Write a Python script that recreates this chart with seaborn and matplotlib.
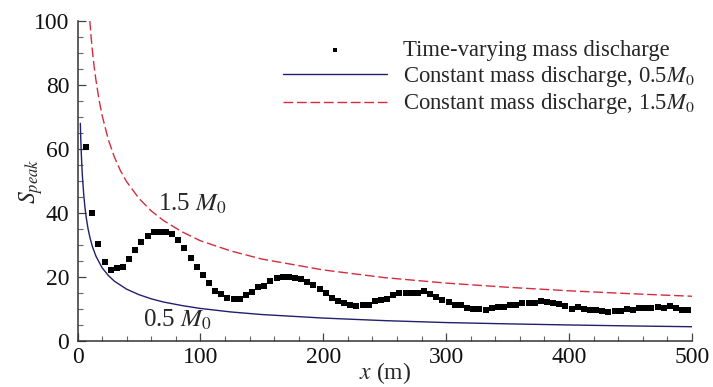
import numpy as np
import pandas as pd
import matplotlib
matplotlib.use("Agg")
import matplotlib.pyplot as plt
import seaborn as sns
from matplotlib.ticker import MultipleLocator

# ---- data ----
x_points = np.arange(7, 500, 5)
s_time_varying = [
    60.7, 40.0, 30.5, 24.9, 22.4, 23.0, 23.3, 25.8, 28.6, 30.9,
    32.9, 34.2, 34.2, 34.2, 33.5, 31.6, 29.0, 25.9, 23.3, 20.8,
    18.3, 15.8, 14.7, 13.5, 13.2, 13.2, 14.5, 15.4, 17.0, 17.3,
    18.8, 19.9, 20.2, 20.2, 19.8, 19.4, 18.7, 17.6, 16.3, 15.2,
    13.7, 12.7, 11.9, 11.5, 11.2, 11.3, 11.5, 12.7, 12.9, 13.4,
    14.6, 15.0, 15.0, 15.0, 15.2, 15.7, 14.8, 13.8, 13.0, 12.35,
    11.4, 11.3, 10.4, 10.2, 10.2, 9.8, 10.5, 10.8, 10.8, 11.5,
    11.5, 12.1, 12.1, 12.0, 12.5, 12.2, 12.0, 11.7, 11.2, 10.2,
    10.7, 10.0, 9.8, 9.7, 9.5, 9.2, 9.4, 9.5, 10.2, 9.8,
    10.5, 10.5, 10.5, 10.8, 10.4, 11.0, 10.4, 9.8, 9.7,
]

x_low = [2.3, 2.6, 3, 3.5, 4, 5, 6, 7, 8.5, 10, 12, 15, 20, 25, 30, 40, 50, 60, 70, 85,
         100, 125, 150, 200, 250, 300, 350, 400, 450, 500]
s_low = [68.0, 63.9, 59.5, 55.1, 51.5, 46.1, 42.0, 38.9, 35.3, 32.6, 29.7, 26.6, 23.0,
         20.6, 18.8, 16.3, 14.6, 13.3, 12.3, 11.2, 10.3, 9.2, 8.4, 7.3, 6.5, 5.9, 5.5,
         5.15, 4.85, 4.6]

x_high = [10, 11, 12, 13.5, 15, 17.5, 20, 25, 30, 35, 40, 50, 60, 70, 85, 100, 125, 150,
          200, 250, 300, 350, 400, 450, 500]
s_high = [100.0, 95.3, 91.0, 85.8, 81.5, 75.4, 70.5, 63.0, 57.5, 53.2, 49.8, 44.6, 40.7,
          37.7, 34.2, 31.4, 28.2, 25.7, 22.3, 19.9, 18.2, 16.9, 15.8, 14.9, 14.1]

labels = ["Time-varying mass discharge",
          r"Constant mass discharge, 0.5$M_\mathit{0}$",
          r"Constant mass discharge, 1.5$M_\mathit{0}$"]

df_pts = pd.DataFrame({"x": x_points, "S": s_time_varying})
df_low = pd.DataFrame({"x": x_low, "S": s_low})
df_high = pd.DataFrame({"x": x_high, "S": s_high})

sns.set_style("white")
plt.rcParams["font.family"] = ["Liberation Serif", "DejaVu Serif"]
plt.rcParams["mathtext.fontset"] = "stix"

fig = plt.figure(figsize=(7.13, 3.87), dpi=100)
ax = fig.add_axes([0.1087, 0.1176, 0.8618, 0.8289])

sns.scatterplot(data=df_pts, x="x", y="S", marker="s", s=19, color="black",
                edgecolor="black", linewidth=0, ax=ax, label=labels[0], zorder=3)
sns.lineplot(data=df_low, x="x", y="S", color="#20206e", lw=1.0, ax=ax,
             label=labels[1], sort=False)
sns.lineplot(data=df_high, x="x", y="S", color="#d62c3c", lw=1.0, ax=ax,
             label=labels[2], sort=False, dashes=False)
ax.lines[-1].set_dashes((7, 2.7))

ax.set_xlim(0, 500)
ax.set_ylim(0, 100)
ax.xaxis.set_major_locator(MultipleLocator(100))
ax.xaxis.set_minor_locator(MultipleLocator(20))
ax.yaxis.set_major_locator(MultipleLocator(20))
ax.yaxis.set_minor_locator(MultipleLocator(5))
for sp in ["top", "right"]:
    ax.spines[sp].set_visible(False)
for sp in ["left", "bottom"]:
    ax.spines[sp].set_color("#333333")
    ax.spines[sp].set_linewidth(1.1)
ax.tick_params(which="both", bottom=True, left=True, top=False, right=False)
ax.tick_params(which="major", direction="in", length=6, width=0.9, color="#444444",
               labelsize=17, labelcolor="#111111")
ax.tick_params(which="minor", direction="in", length=3.5, width=0.8, color="#666666")
ax.tick_params(axis="x", which="major", pad=4)
ax.tick_params(axis="y", which="major", pad=6)

ax.set_xlabel(r"$x$ (m)", fontsize=17, labelpad=-6)
ax.set_ylabel(r"$S_{peak}$", fontsize=17)
ax.yaxis.set_label_coords(-0.053, 0.5)

ax.text(93, 42.8, r"1.5 $M_\mathit{0}$", fontsize=18, ha="center", va="center")
ax.text(81, 6.7, r"0.5 $M_\mathit{0}$", fontsize=18, ha="center", va="center")

leg = ax.legend(loc="upper left", bbox_to_anchor=(283 / 713, 1 - 40 / 387),
                bbox_transform=fig.transFigure, frameon=False, fontsize=16.3,
                handlelength=4.6, handletextpad=0.7, labelspacing=0.12,
                borderpad=0, borderaxespad=0, markerscale=0.6)

fig.savefig("out.png", dpi=100)
